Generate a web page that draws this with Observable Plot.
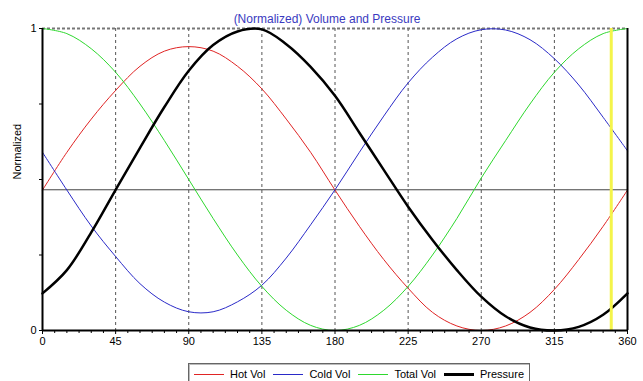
<!DOCTYPE html>
<html>
<head>
<meta charset="utf-8">
<script src="https://cdn.jsdelivr.net/npm/d3@7"></script>
<script src="https://cdn.jsdelivr.net/npm/@observablehq/plot@0.6"></script>
<style>
  html, body { margin: 0; padding: 0; background: #fff; }
  #wrap { position: relative; width: 643px; height: 381px; overflow: hidden; font-family: "Liberation Sans", Arial, sans-serif; }
  #legend { position: absolute; left: 188px; top: 363px; width: 342px; height: 22px; box-sizing: border-box;
            border: 1px solid #666; box-shadow: inset 1px 1px 0 #bbb; background: #fff;
            display: flex; align-items: center; justify-content: center; font-size: 11px; color: #000; }
  .item { display: flex; align-items: center; margin: 0 4px; }
  .sw { display: inline-block; width: 30px; margin-right: 6px; }
</style>
</head>
<body>
<div id="wrap"></div>
<script>
// ---- data ----
const angles   = [0, 15, 30, 45, 60, 75, 90, 105, 120, 135, 150, 165, 180, 195, 210, 225, 240, 255, 270, 285, 300, 315, 330, 345, 360];
const hotVol   = [0.465, 0.59, 0.70, 0.795, 0.875, 0.925, 0.94, 0.925, 0.875, 0.80, 0.70, 0.59, 0.465, 0.345, 0.235, 0.14, 0.06, 0.015, 0.0, 0.015, 0.06, 0.136, 0.235, 0.345, 0.465];
const coldVol  = [0.59, 0.465, 0.346, 0.245, 0.155, 0.094, 0.062, 0.062, 0.095, 0.15, 0.24, 0.35, 0.466, 0.59, 0.71, 0.82, 0.905, 0.966, 0.996, 0.995, 0.963, 0.90, 0.813, 0.706, 0.595];
const totalVol = [1.0, 0.983, 0.933, 0.855, 0.75, 0.629, 0.5, 0.371, 0.25, 0.146, 0.067, 0.017, 0.0, 0.017, 0.067, 0.146, 0.25, 0.371, 0.505, 0.629, 0.75, 0.855, 0.933, 0.983, 1.0];
const pressure = [0.123, 0.2, 0.325, 0.466, 0.605, 0.74, 0.86, 0.945, 0.99, 0.997, 0.948, 0.873, 0.777, 0.655, 0.532, 0.41, 0.30, 0.20, 0.112, 0.047, 0.01, 0.0, 0.012, 0.052, 0.123];

const seriesNames  = ["Hot Vol", "Cold Vol", "Total Vol", "Pressure"];
const seriesColors = ["#e02424", "#2a2ac8", "#2ed82e", "#000000"];
const seriesWidths = [1, 1, 1, 2.5];

const xTickLabels = [0, 45, 90, 135, 180, 225, 270, 315, 360];
const xMinorTicks = [7.5, 15, 22.5, 30, 37.5, 52.5, 60, 67.5, 75, 82.5, 97.5, 105, 112.5, 120, 127.5, 142.5, 150, 157.5, 165, 172.5, 187.5, 195, 202.5, 210, 217.5, 232.5, 240, 247.5, 255, 262.5, 277.5, 285, 292.5, 300, 307.5, 322.5, 330, 337.5, 345, 352.5];
const yTickLabels = [0, 1];
const yMinorTicks = [0.25, 0.5, 0.75];
const gridAngles  = [45, 90, 135, 180, 225, 270, 315];
const refLevel    = [0.466];
const markerAngle = [350];

const title  = "(Normalized) Volume and Pressure";
const yLabel = "Normalized";

// ---- build table ----
const rows = angles.map((a, i) => ({angle: a, hot: hotVol[i], cold: coldVol[i], total: totalVol[i], pressure: pressure[i]}));
const keys = ["hot", "cold", "total", "pressure"];

const chart = Plot.plot({
  width: 643,
  height: 381,
  marginLeft: 42,
  marginRight: 16,
  marginTop: 28,
  marginBottom: 51,
  style: {fontFamily: "'Liberation Sans', Arial, sans-serif", fontSize: "11px", background: "transparent", overflow: "visible"},
  x: {domain: [0, 360]},
  y: {domain: [0, 1]},
  marks: [
    Plot.ruleX(gridAngles, {stroke: "#555", strokeWidth: 1, strokeDasharray: "3,3"}),
    Plot.ruleY([1], {stroke: "#777", strokeWidth: 2, strokeDasharray: "3,2"}),
    Plot.ruleY(refLevel, {stroke: "#444", strokeWidth: 1}),
    ...keys.map((k, i) => Plot.lineY(rows, {x: "angle", y: k, stroke: seriesColors[i], strokeWidth: seriesWidths[i], curve: "catmull-rom"})),
    Plot.ruleX(markerAngle, {stroke: "#f4f44a", strokeWidth: 3}),
    Plot.ruleY([0], {stroke: "#000", strokeWidth: 2}),
    Plot.ruleX([0], {stroke: "#000", strokeWidth: 2}),
    Plot.ruleX([360], {stroke: "#000", strokeWidth: 2}),
    Plot.axisX(xTickLabels, {tickSize: 4, tickPadding: 3, fontSize: 11, label: null, stroke: "#000", fill: "#000", tickFormat: d => String(d)}),
    Plot.axisX(xMinorTicks, {tickSize: 3, text: null, label: null, stroke: "#000"}),
    Plot.axisY(yTickLabels, {tickSize: 3, tickPadding: 3, fontSize: 11, label: null, stroke: "#000", fill: "#000", tickFormat: d => String(d)}),
    Plot.axisY(yMinorTicks, {tickSize: 3, text: null, label: null, stroke: "#000"}),
    Plot.text([title], {frameAnchor: "top", dy: -14, dx: -8, fill: "#3a3ac0", fontSize: 12}),
    Plot.text([yLabel], {frameAnchor: "left", dx: -25, rotate: -90, fill: "#000", fontSize: 11})
  ]
});

const wrap = document.getElementById("wrap");
wrap.appendChild(chart);

// ---- legend ----
const legend = document.createElement("div");
legend.id = "legend";
seriesNames.forEach((name, i) => {
  const item = document.createElement("span");
  item.className = "item";
  const sw = document.createElement("span");
  sw.className = "sw";
  sw.style.borderTop = `${seriesWidths[i] > 1 ? 3 : 1}px solid ${seriesColors[i]}`;
  item.appendChild(sw);
  item.appendChild(document.createTextNode(name));
  legend.appendChild(item);
});
wrap.appendChild(legend);
</script>
</body>
</html>
